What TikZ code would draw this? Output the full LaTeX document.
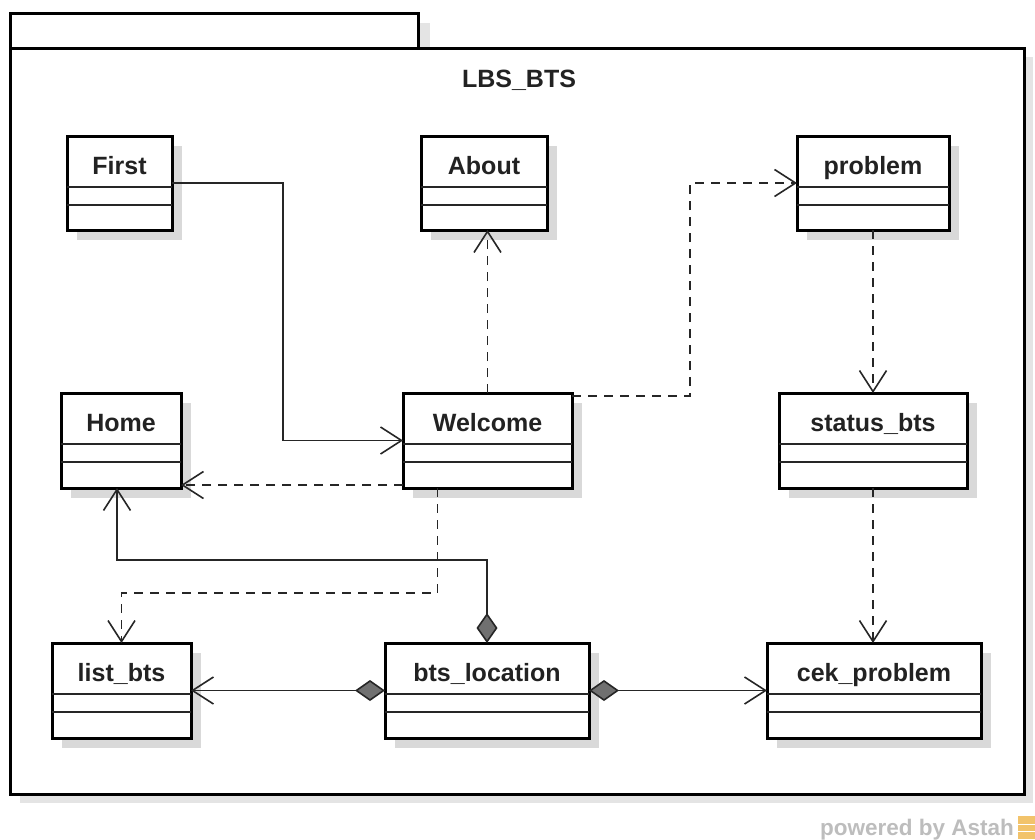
\documentclass[tikz,border=0pt]{standalone}
\usepackage{fontspec}
\setmainfont{Liberation Sans}
\usetikzlibrary{arrows.meta,calc}

\definecolor{boxshade}{HTML}{D9D9D9}
\definecolor{pkgshade}{HTML}{E4E4E4}
\definecolor{inkgray}{HTML}{222222}
\definecolor{diamondfill}{HTML}{707070}
\definecolor{credit}{HTML}{BDBDBD}
\definecolor{logoorange}{HTML}{F2C36B}

\tikzset{
  pkgline/.style={draw=black, line width=3pt, fill=white, inner sep=0pt, outer sep=0pt},
  classbox/.style={draw=black, line width=3pt, fill=white, inner sep=0pt, outer sep=0pt, rectangle},
  compline/.style={draw=black!85, line width=1.6pt},
  classname/.style={anchor=base, inner sep=0pt, text=inkgray,
    font=\bfseries\fontsize{25}{30}\selectfont},
  conn/.style={draw=black!85, line width=1.6pt, line join=miter},
  openhead/.style={-{Straight Barb[length=21pt,width=27pt]}},
  dep/.style={conn, openhead, dash pattern=on 9pt off 7pt},
  nav/.style={conn, openhead},
  comp/.style={conn, {Diamond[length=30pt,width=21pt,fill=diamondfill]}-{Straight Barb[length=21pt,width=27pt]}},
}

% class box: name, label, left, top, right, bottom (pixels, y downward)
\newcommand\umlclass[6]{%
  \fill[boxshade] (#3+10,#4+10) rectangle (#5+10,#6+10);
  \node[classbox, minimum width={#5-#3}, minimum height={#6-#4}] (#1) at ({(#3+#5)/2},{(#4+#6)/2}) {};
  \draw[compline] ([yshift=-51pt]#1.north west) -- ([yshift=-51pt]#1.north east);
  \draw[compline] ([yshift=-69pt]#1.north west) -- ([yshift=-69pt]#1.north east);
  \node[classname] (#1-name) at ([yshift=-38pt]#1.north) {#2};
}

\begin{document}
\begin{tikzpicture}[x=1pt, y=-1pt]
\useasboundingbox (0,0) rectangle (1035,839);
\fill[white] (0,0) rectangle (1035,839);

% package frame with its tab
\fill[pkgshade] (20,23) rectangle (430,57);
\fill[pkgshade] (20,57) rectangle (1033,803);
\node[pkgline, minimum width=408, minimum height=35] (pkgtab) at (214,30.5) {};
\node[pkgline, minimum width=1014, minimum height=746] (pkgbody) at (517,421) {};
\node[classname] (pkgname) at (519,87) {LBS\_BTS};

% classes
\umlclass{First}{First}{67}{136}{172}{230}
\umlclass{About}{About}{421}{136}{547}{230}
\umlclass{problem}{problem}{797}{136}{949}{230}
\umlclass{Home}{Home}{61}{393}{181}{488}
\umlclass{Welcome}{Welcome}{403}{393}{572}{488}
\umlclass{status}{status\_bts}{779}{393}{967}{488}
\umlclass{listbts}{list\_bts}{52}{643}{191}{738}
\umlclass{btsloc}{bts\_location}{385}{643}{589}{738}
\umlclass{cek}{cek\_problem}{767}{643}{981}{738}

% associations
\draw[nav] (First.east) -- ++(111,0) |- (Welcome.west);
\draw[comp] (btsloc.north) -- ++(0,-83) -| ([xshift=-4pt]Home.south);
\draw[comp] (btsloc.west) -- (listbts.east);
\draw[comp] (btsloc.east) -- (cek.west);

% dependencies
\draw[dep] (Welcome.north) -- (Welcome.north |- About.south);
\draw[dep] ([yshift=-3pt]Welcome.north east) -- ++(118,0) |- (problem.west);
\draw[dep] (problem.south) -- (problem.south |- status.north);
\draw[dep] (status.south) -- (status.south |- cek.north);
\draw[dep] ([yshift=3pt]Welcome.south west) -- ([yshift=3pt]Home.south east);
\draw[dep] ([xshift=-50pt]Welcome.south) -- ++(0,105) -| (listbts.north);

% tool credit
\node[anchor=base east, inner sep=0pt, text=credit,
  font=\bfseries\fontsize{22.5}{26}\selectfont] (credit) at (1014,835) {powered by Astah};
\fill[logoorange] (1018,816) rectangle (1035,839);
\draw[white, line width=1pt] (1018,824) -- (1035,824) (1018,831) -- (1035,831);
\end{tikzpicture}
\end{document}
